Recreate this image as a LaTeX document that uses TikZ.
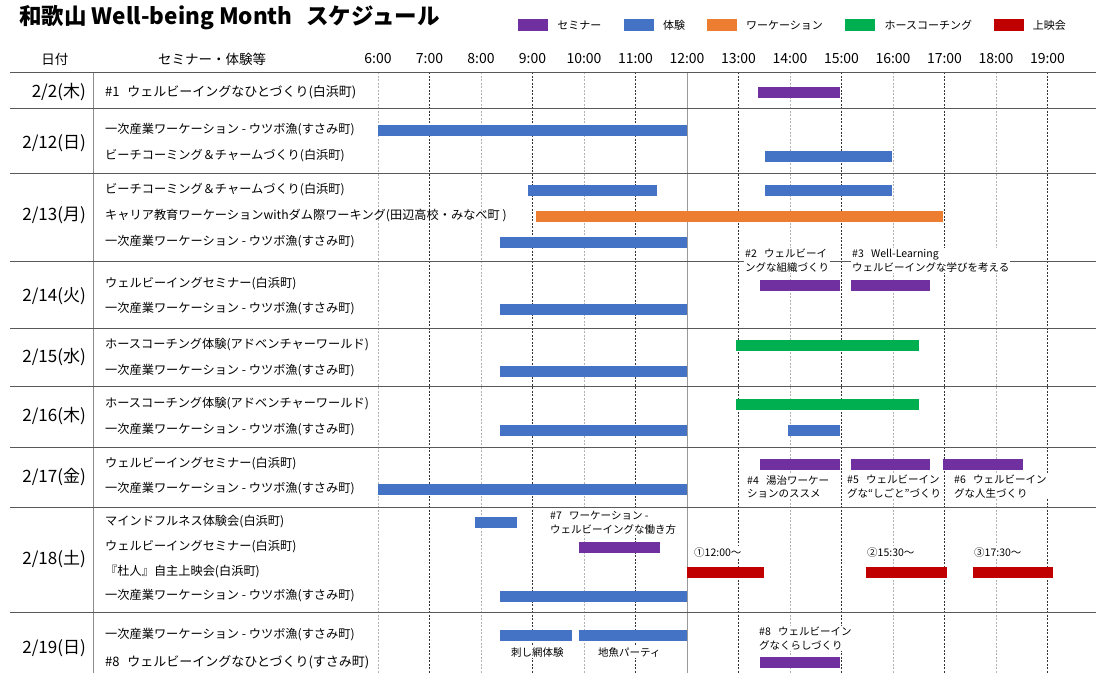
\documentclass[tikz,border=0pt]{standalone}
\usepackage{fontspec}
\setmainfont{Noto Sans CJK JP}
\usetikzlibrary{positioning}

\definecolor{semcol}{HTML}{7030A0}
\definecolor{expcol}{HTML}{4472C4}
\definecolor{wkcol}{HTML}{ED7D31}
\definecolor{horsecol}{HTML}{00B050}
\definecolor{moviecol}{HTML}{C00000}

\begin{document}
\begin{tikzpicture}[x=1pt, y=-1pt,
    % event bars - one style per category
    sembar/.style={fill=semcol},
    expbar/.style={fill=expcol},
    wkbar/.style={fill=wkcol},
    horsebar/.style={fill=horsecol},
    moviebar/.style={fill=moviecol},
    % legend boxes and their labels
    legbox/.style={rectangle, minimum width=30pt, minimum height=12pt, inner sep=0pt},
    leglbl/.style={font=\fontsize{11}{13}\selectfont, inner sep=0pt},
    % table header
    hdrlbl/.style={font=\fontsize{13.5}{15}\selectfont},
    hourlbl/.style={font=\fontsize{14}{16}\selectfont},
    % left column texts
    datelbl/.style={font=\fontsize{17}{19}\selectfont, anchor=east, inner sep=0pt},
    itemlbl/.style={font=\fontsize{12.2}{14}\selectfont, anchor=west, inner sep=0pt},
    % notes next to the bars - white, so they hide the lines behind
    notelbl/.style={font=\fontsize{10.5}{13.5}\selectfont, align=left, anchor=north west, fill=white, inner sep=1pt},
    % lines
    rowsep/.style={draw=black!65, line width=0.9pt},
    colsep/.style={draw=black!45, line width=0.9pt},
    gridodd/.style={draw=black!80, line width=0.5pt, dash pattern=on 2pt off 1.5pt},
    grideven/.style={draw=black!30, line width=0.5pt, dash pattern=on 2pt off 1.5pt},
    gridnoon/.style={draw=black!40, line width=0.8pt}
]
    \useasboundingbox (0,0) rectangle (1096,673);

    % Title
    \node[anchor=west, inner sep=0pt, font=\fontsize{22.5}{25}\selectfont\bfseries] (title) at (19,18)
        {和歌山 Well-being Month\hspace{0.6em}スケジュール};

    % Legend - chained left to right
    \node[legbox, fill=semcol] (lgsem) at (533,25) {};
    \node[leglbl, right=9pt of lgsem] (lgsemt) {セミナー};
    \node[legbox, fill=expcol, right=22pt of lgsemt] (lgexp) {};
    \node[leglbl, right=9pt of lgexp] (lgexpt) {体験};
    \node[legbox, fill=wkcol, right=21pt of lgexpt] (lgwk) {};
    \node[leglbl, right=9pt of lgwk] (lgwkt) {ワーケーション};
    \node[legbox, fill=horsecol, right=22pt of lgwkt] (lghorse) {};
    \node[leglbl, right=9pt of lghorse] (lghorset) {ホースコーチング};
    \node[legbox, fill=moviecol, right=22pt of lghorset] (lgmovie) {};
    \node[leglbl, right=8pt of lgmovie] (lgmoviet) {上映会};

    % Header
    \node[hdrlbl] (hdate) at (55,59) {日付};
    \node[hdrlbl] (hitem) at (212,59) {セミナー・体験等};
    \foreach \h in {6,...,19}
        \node[hourlbl] (h\h) at ({378+(\h-6)*51.5},59) {\h:00};

    % Hour grid - odd hours dark, even hours light, noon solid
    \foreach \h in {7,9,11,13,15,17,19}
        \draw[gridodd] ({378+(\h-6)*51.5},72) -- ({378+(\h-6)*51.5},673);
    \foreach \h in {6,8,10,14,16,18}
        \draw[grideven] ({378+(\h-6)*51.5},72) -- ({378+(\h-6)*51.5},673);
    \draw[gridnoon] (687,72) -- (687,673);

    % Table lines
    \draw[colsep] (93,72) -- (93,673);
    \foreach \y in {72,108,173,261,328,386,447,507,612}
        \draw[rowsep] (10,\y) -- (1096,\y);

    % Dates
    \node[datelbl] (d02) at (86,92) {2/2(木)};
    \node[datelbl] (d12) at (86,143) {2/12(日)};
    \node[datelbl] (d13) at (86,215) {2/13(月)};
    \node[datelbl] (d14) at (86,296) {2/14(火)};
    \node[datelbl] (d15) at (86,357) {2/15(水)};
    \node[datelbl] (d16) at (86,416) {2/16(木)};
    \node[datelbl] (d17) at (86,477) {2/17(金)};
    \node[datelbl] (d18) at (86,559) {2/18(土)};
    \node[datelbl] (d19) at (86,648) {2/19(日)};

    % Items
    \node[itemlbl, font=\fontsize{13}{15}\selectfont] (i02a) at (105,92) {\#1\hspace{0.6em}ウェルビーイングなひとづくり(白浜町)};
    \node[itemlbl] (i12a) at (105,130) {一次産業ワーケーション - ウツボ漁(すさみ町)};
    \node[itemlbl] (i12b) at (105,156) {ビーチコーミング＆チャームづくり(白浜町)};
    \node[itemlbl] (i13a) at (105,190) {ビーチコーミング＆チャームづくり(白浜町)};
    \node[itemlbl] (i13b) at (105,216) {キャリア教育ワーケーションwithダム際ワーキング(田辺高校・みなべ町 )};
    \node[itemlbl] (i13c) at (105,242) {一次産業ワーケーション - ウツボ漁(すさみ町)};
    \node[itemlbl] (i14a) at (105,284) {ウェルビーイングセミナー(白浜町)};
    \node[itemlbl] (i14b) at (105,309) {一次産業ワーケーション - ウツボ漁(すさみ町)};
    \node[itemlbl] (i15a) at (105,345) {ホースコーチング体験(アドベンチャーワールド)};
    \node[itemlbl] (i15b) at (105,371) {一次産業ワーケーション - ウツボ漁(すさみ町)};
    \node[itemlbl] (i16a) at (105,404) {ホースコーチング体験(アドベンチャーワールド)};
    \node[itemlbl] (i16b) at (105,430) {一次産業ワーケーション - ウツボ漁(すさみ町)};
    \node[itemlbl] (i17a) at (105,464) {ウェルビーイングセミナー(白浜町)};
    \node[itemlbl] (i17b) at (105,489) {一次産業ワーケーション - ウツボ漁(すさみ町)};
    \node[itemlbl] (i18a) at (105,522) {マインドフルネス体験会(白浜町)};
    \node[itemlbl] (i18b) at (105,547) {ウェルビーイングセミナー(白浜町)};
    \node[itemlbl] (i18c) at (105,572) {『杜人』自主上映会(白浜町)};
    \node[itemlbl] (i18d) at (105,596) {一次産業ワーケーション - ウツボ漁(すさみ町)};
    \node[itemlbl] (i19a) at (105,635) {一次産業ワーケーション - ウツボ漁(すさみ町)};
    \node[itemlbl, font=\fontsize{13}{15}\selectfont] (i19b) at (105,662) {\#8\hspace{0.6em}ウェルビーイングなひとづくり(すさみ町)};

    % Bars 2/2
    \fill[sembar] (758,86.5) rectangle (840,97.5);
    % Bars 2/12
    \fill[expbar] (378,124.5) rectangle (687,135.5);
    \fill[expbar] (765,150.5) rectangle (892,161.5);
    % Bars 2/13
    \fill[expbar] (528,184.5) rectangle (657,195.5);
    \fill[expbar] (765,184.5) rectangle (892,195.5);
    \fill[wkbar] (536,210.5) rectangle (943,221.5);
    \fill[expbar] (500,236.5) rectangle (687,247.5);
    % Bars 2/14
    \fill[sembar] (760,279.5) rectangle (840,290.5);
    \fill[sembar] (851,279.5) rectangle (930,290.5);
    \fill[expbar] (500,303.5) rectangle (687,314.5);
    % Bars 2/15
    \fill[horsebar] (736,339.5) rectangle (919,350.5);
    \fill[expbar] (500,365.5) rectangle (687,376.5);
    % Bars 2/16
    \fill[horsebar] (736,398.5) rectangle (919,409.5);
    \fill[expbar] (788,424.5) rectangle (840,435.5);
    \fill[expbar] (500,424.5) rectangle (687,435.5);
    % Bars 2/17
    \fill[sembar] (760,458.5) rectangle (840,469.5);
    \fill[sembar] (851,458.5) rectangle (930,469.5);
    \fill[sembar] (943,458.5) rectangle (1023,469.5);
    \fill[expbar] (378,483.5) rectangle (687,494.5);
    % Bars 2/18
    \fill[expbar] (475,516.5) rectangle (517,527.5);
    \fill[sembar] (579,541.5) rectangle (660,552.5);
    \fill[moviebar] (687,566.5) rectangle (764,577.5);
    \fill[moviebar] (866,566.5) rectangle (947,577.5);
    \fill[moviebar] (973,566.5) rectangle (1053,577.5);
    \fill[expbar] (500,590.5) rectangle (687,601.5);
    % Bars 2/19
    \fill[expbar] (500,629.5) rectangle (572,640.5);
    \fill[expbar] (579,629.5) rectangle (687,640.5);
    \fill[sembar] (760,656.5) rectangle (840,667.5);

    % Notes on the bars
    \node[notelbl] (n2) at (744,248) {\#2\hspace{0.7em}ウェルビーイ\\ングな組織づくり};
    \node[notelbl] (n3) at (851,248) {\#3\hspace{0.7em}Well-Learning\\ウェルビーイングな学びを考える};
    \node[notelbl] (n4) at (746,474) {\#4\hspace{0.7em}湯治ワーケー\\ションのススメ};
    \node[notelbl] (n5) at (846,474) {\#5\hspace{0.7em}ウェルビーイン\\グな“しごと”づくり};
    \node[notelbl] (n6) at (953,474) {\#6\hspace{0.7em}ウェルビーイン\\グな人生づくり};
    \node[notelbl] (n7) at (549,510) {\#7\hspace{0.7em}ワーケーション -\\ウェルビーイングな働き方};
    \node[notelbl] (m1) at (693,546) {①12:00～};
    \node[notelbl] (m2) at (866,546) {②15:30～};
    \node[notelbl] (m3) at (973,546) {③17:30～};
    \node[notelbl] (e1) at (510,646) {刺し網体験};
    \node[notelbl] (e2) at (597,646) {地魚パーティ};
    \node[notelbl] (n8) at (758,626) {\#8\hspace{0.7em}ウェルビーイン\\グなくらしづくり};
\end{tikzpicture}
\end{document}
